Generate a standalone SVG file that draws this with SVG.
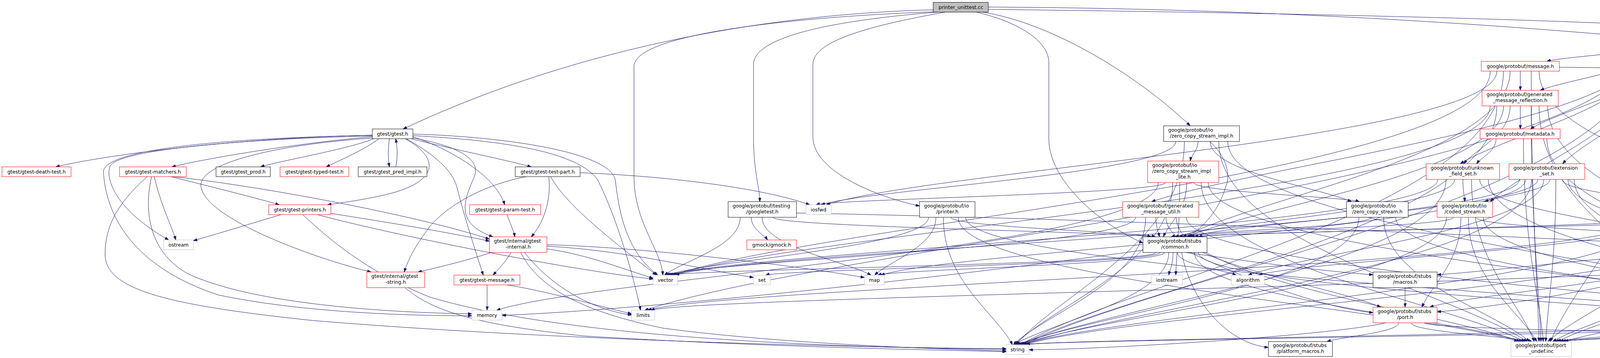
<svg xmlns="http://www.w3.org/2000/svg" width="5776" height="916" viewBox="0 0 5776 916">
<style>
.nd rect{fill:#fff;stroke:#000;stroke-width:1}
.nd.r rect{stroke:#ff0000}
.nd.g rect{stroke:#bfbfbf}
.nd.root rect{fill:#bfbfbf;stroke:#000}
.nd text{font-family:"DejaVu Sans","Liberation Sans",sans-serif;font-size:12.5px;fill:#000}
.nd text.c{text-anchor:middle}
#edges path{fill:none;stroke:#191970;stroke-width:1;marker-end:url(#arr)}
</style>
<defs>
<marker id="arr" viewBox="0 0 10 7" markerWidth="10" markerHeight="7" refX="10" refY="3.5" orient="auto" markerUnits="userSpaceOnUse"><path d="M0,0L10,3.5L0,7z" fill="#191970" stroke="#191970" stroke-width="1"/></marker>
</defs>
<rect width="5776" height="916" fill="#fff"/>
<g id="edges">
<path d="M2389,25C2000,35 1500,110 1032,330"/>
<path d="M2392,30C2000,45 1623,90 1623,170L1623,450C1623,570 1693,640 1697,704"/>
<path d="M2400,31C2100,55 1929,100 1929,165L1929,350C1929,440 1945,480 1945,516"/>
<path d="M2420,31C2200,70 2081,110 2081,165L2081,350C2081,440 2250,505 2354,527"/>
<path d="M2500,31C2620,60 2685,110 2685,160L2685,355C2685,460 2810,570 2926,622"/>
<path d="M2515,31C2700,60 2920,200 3047,322"/>
<path d="M2530,18C3300,22 3900,70 4177,94"/>
<path d="M2530,24C3500,35 4400,60 4553,91C4650,130 4670,235 4620,353C4570,460 4420,560 4370,606"/>
<path d="M953,346C600,352 250,400 143,427"/>
<path d="M953,350C800,362 550,400 440,427"/>
<path d="M953,348C600,356 300,385 282,425C268,460 300,540 432,614"/>
<path d="M956,355C900,380 700,415 667,427"/>
<path d="M1037,355C1120,400 1130,460 1000,495C940,510 880,518 838,524"/>
<path d="M970,355C930,385 870,410 835,427"/>
<path d="M997,355C993,380 993,405 997,427"/>
<path d="M1013,427C1018,405 1018,380 1013,355"/>
<path d="M957,353C700,370 500,420 515,480C530,560 800,660 950,696"/>
<path d="M1040,355C1120,400 1160,440 1170,480C1190,560 1220,650 1237,704"/>
<path d="M953,346C500,355 263,390 265,440C270,540 330,680 560,755C800,805 1100,808 1208,808"/>
<path d="M1057,350C1150,380 1270,450 1292,524"/>
<path d="M1057,353C1180,375 1230,410 1215,450C1190,510 1160,570 1262,606"/>
<path d="M1053,355C1150,380 1300,410 1360,427"/>
<path d="M1057,347C1300,360 1480,390 1530,460C1580,560 1620,700 1640,794"/>
<path d="M1057,343C1300,350 1560,390 1575,460C1585,540 1600,640 1684,704"/>
<path d="M395,452C410,520 440,580 450,614"/>
<path d="M437,452C550,480 650,505 715,524"/>
<path d="M388,452C370,530 375,640 480,700C650,780 1000,800 1208,803"/>
<path d="M443,452C700,480 1100,560 1253,612"/>
<path d="M377,452C300,520 269,580 269,650C269,740 420,780 800,820C1400,870 2200,890 2576,892"/>
<path d="M720,549C650,570 550,600 495,616"/>
<path d="M847,546C1000,570 1150,595 1253,617"/>
<path d="M812,549C1000,600 1450,690 1672,714"/>
<path d="M775,549C850,620 950,700 1100,760C1500,880 2300,890 2576,894"/>
<path d="M1298,549C1305,570 1315,590 1318,606"/>
<path d="M1347,452C1250,470 1150,520 1100,580C1070,620 1045,660 1035,696"/>
<path d="M1405,452C1410,500 1400,560 1360,606"/>
<path d="M1410,452C1450,530 1600,640 1680,704"/>
<path d="M1485,442C1700,450 1950,480 2073,524"/>
<path d="M1258,646C1200,665 1120,685 1070,696"/>
<path d="M1308,646C1295,670 1275,690 1262,704"/>
<path d="M1400,637C1500,650 1600,690 1672,712"/>
<path d="M1400,630C1600,640 1800,690 1929,710"/>
<path d="M1400,626C1700,635 2100,690 2213,710"/>
<path d="M1343,646C1400,720 1500,790 1617,806"/>
<path d="M1333,646C1380,740 1500,800 1700,840C2000,880 2400,893 2576,898"/>
<path d="M1247,729C1247,760 1247,775 1247,794"/>
<path d="M1298,729C1400,745 1520,780 1617,803"/>
<path d="M1037,736C1100,790 1200,830 1500,860C2000,890 2400,895 2576,900"/>
<path d="M1895,556C1895,630 1749,667 1701,704"/>
<path d="M1923,556C1923,585 1955,600 1965,614"/>
<path d="M1951,556C1951,630 2160,667 2230,704"/>
<path d="M1979,556C1979,581 2910,594 2947,606"/>
<path d="M2039,545C2800,560 3800,600 4252,625"/>
<path d="M2377,556C2377,630 1816,667 1705,704"/>
<path d="M2396,556C2396,630 2278,667 2239,704"/>
<path d="M2415,556C2415,719 2548,800 2592,882"/>
<path d="M2434,556C2434,581 2921,594 2958,606"/>
<path d="M2453,556C2453,715 3648,794 3886,874"/>
<path d="M2472,556C2472,715 4984,794 5222,874"/>
<path d="M3010,362C3010,443 2223,484 2102,524"/>
<path d="M3032,362C3032,622 2709,752 2601,882"/>
<path d="M3097,362C3140,400 3152,450 3137,480C3120,540 3080,580 3043,606"/>
<path d="M3067,362C3067,385 3050,395 3047,412"/>
<path d="M3098,362C3098,439 3370,478 3460,516"/>
<path d="M3120,362C3120,618 3713,746 3910,874"/>
<path d="M3143,362C3143,618 4856,746 5240,874"/>
<path d="M2965,467C2965,631 1517,712 1271,794"/>
<path d="M2984,467C2984,495 2131,510 2089,524"/>
<path d="M3002,467C3002,675 2699,778 2598,882"/>
<path d="M3020,467C3020,585 3012,645 3010,704"/>
<path d="M3038,467C3038,537 2993,571 2978,606"/>
<path d="M3056,467C3056,491 3444,504 3480,516"/>
<path d="M3075,467C3075,671 3697,772 3904,874"/>
<path d="M3093,467C3093,671 4929,772 5235,874"/>
<path d="M2907,556C2907,630 1820,667 1709,704"/>
<path d="M2933,556C2933,719 2679,800 2594,882"/>
<path d="M2959,556C2959,581 2966,594 2968,606"/>
<path d="M2985,556C2985,671 3398,728 3535,786"/>
<path d="M3011,556C3011,715 3672,794 3892,874"/>
<path d="M3037,556C3037,715 4988,794 5226,874"/>
<path d="M3479,556C3479,719 2822,800 2603,882"/>
<path d="M3510,556C3510,581 3035,594 2998,606"/>
<path d="M3542,556C3542,715 3822,794 3916,874"/>
<path d="M3573,556C3573,715 5006,794 5244,874"/>
<path d="M3703,556C3703,719 2853,800 2609,882"/>
<path d="M3721,556C3721,581 3055,594 3018,606"/>
<path d="M3740,556C3740,671 3665,728 3640,786"/>
<path d="M3759,556C3759,715 3890,794 3934,874"/>
<path d="M3778,556C3778,581 4253,594 4290,606"/>
<path d="M3797,556C3797,715 5020,794 5258,874"/>
<path d="M3681,459C3681,581 1900,643 1717,704"/>
<path d="M3702,459C3702,671 2881,776 2607,882"/>
<path d="M3724,459C3724,533 3119,569 3008,606"/>
<path d="M3745,459C3745,488 3749,502 3750,516"/>
<path d="M3767,459C3767,667 3888,770 3928,874"/>
<path d="M3788,459C3788,533 4164,569 4275,606"/>
<path d="M3810,459C3810,667 4941,770 5253,874"/>
<path d="M3890,459C3890,581 1912,643 1729,704"/>
<path d="M3906,459C3906,581 2438,643 2255,704"/>
<path d="M3921,459C3921,671 2934,776 2616,882"/>
<path d="M3937,459C3937,533 3159,569 3048,606"/>
<path d="M3952,459C3952,581 3378,643 3195,704"/>
<path d="M3968,459C3968,487 3842,502 3800,516"/>
<path d="M3983,459C3983,667 3963,770 3957,874"/>
<path d="M3999,459C3999,487 4183,502 4225,516"/>
<path d="M4014,459C4014,533 4232,569 4305,606"/>
<path d="M4030,459C4030,667 4965,770 5276,874"/>
<path d="M4220,556C4220,675 1836,734 1658,794"/>
<path d="M4239,556C4239,719 2862,800 2618,882"/>
<path d="M4257,556C4257,581 3095,594 3058,606"/>
<path d="M4276,556C4276,630 3333,667 3222,704"/>
<path d="M4295,556C4295,715 4046,794 3963,874"/>
<path d="M4313,556C4313,581 4318,594 4320,606"/>
<path d="M4332,556C4332,585 4842,600 4885,614"/>
<path d="M4351,556C4351,715 5048,794 5280,874"/>
<path d="M4538,549C4538,715 2874,799 2625,882"/>
<path d="M4562,549C4562,577 3110,592 3068,606"/>
<path d="M4587,549C4500,680 3900,780 3679,798"/>
<path d="M4612,549C4612,711 4143,793 3987,874"/>
<path d="M4636,549C4636,577 4442,592 4400,606"/>
<path d="M4661,549C4661,581 4887,598 4935,614"/>
<path d="M4685,549C4685,711 5145,793 5298,874"/>
<path d="M4285,646C4000,670 3800,695 3679,703"/>
<path d="M4317,646C4317,716 3765,751 3660,786"/>
<path d="M4350,646C4350,760 4069,817 3975,874"/>
<path d="M4382,646C4382,760 5118,817 5289,874"/>
<path d="M2926,640C2500,700 1700,790 1285,807"/>
<path d="M2959,646C2959,675 1756,690 1713,704"/>
<path d="M2970,646C2970,675 2003,690 1960,704"/>
<path d="M2981,646C2981,675 2290,690 2247,704"/>
<path d="M2992,646C2992,764 2695,823 2596,882"/>
<path d="M3003,646C3003,675 2995,690 2992,704"/>
<path d="M3014,646C3014,675 3127,690 3165,704"/>
<path d="M3025,646C3050,780 3150,880 3247,889"/>
<path d="M3036,646C3200,670 3400,695 3515,703"/>
<path d="M3047,646C3200,720 3400,790 3515,800"/>
<path d="M3058,646C3058,760 3727,817 3898,874"/>
<path d="M3068,646C3068,760 5060,817 5231,874"/>
<path d="M3597,736C3597,760 3597,770 3597,786"/>
<path d="M3548,826C3400,860 2800,895 2634,895"/>
<path d="M3581,826C3581,850 3433,862 3397,874"/>
<path d="M3613,826C3613,850 3886,862 3922,874"/>
<path d="M3646,826C3646,850 5213,862 5249,874"/>
<path d="M4887,639C4887,717 1783,755 1666,794"/>
<path d="M4935,639C4935,757 4182,815 4005,874"/>
<path d="M4982,639C4982,757 5230,815 5312,874"/>
<path d="M4357,826C4357,854 2665,868 2623,882"/>
<path d="M4409,826C4409,850 4017,862 3981,874"/>
<path d="M4461,826C4461,850 5258,862 5294,874"/>
<path d="M4621,826C4621,854 2669,868 2627,882"/>
<path d="M4668,826C4668,850 4029,862 3993,874"/>
<path d="M4714,826C4714,850 5267,862 5303,874"/>
<path d="M4888,826C4888,850 4035,862 3999,874"/>
<path d="M4966,826C4966,850 5271,862 5307,874"/>
<path d="M3815,182C3815,443 2113,574 1721,704"/>
<path d="M3832,182C3832,353 2371,438 2115,524"/>
<path d="M3849,182C3849,532 2921,707 2612,882"/>
<path d="M3866,182C3866,394 3238,500 3028,606"/>
<path d="M3892,182C3892,205 3892,215 3892,231"/>
<path d="M3920,182C3920,528 3935,701 3940,874"/>
<path d="M3940,182C3940,398 4632,506 4862,614"/>
<path d="M3992,172C4900,180 5494,250 5494,423C5494,600 5380,780 5345,874"/>
<path d="M3815,271C3815,487 2049,596 1725,704"/>
<path d="M3832,271C3832,577 2918,729 2614,882"/>
<path d="M3849,271C3849,439 3241,522 3038,606"/>
<path d="M3866,271C3866,345 3777,382 3747,419"/>
<path d="M3892,271C3892,295 3892,310 3892,330"/>
<path d="M3920,271C3920,573 3939,723 3945,874"/>
<path d="M3940,271C3940,529 4240,657 4340,786"/>
<path d="M3962,271C3962,573 4941,723 5267,874"/>
<path d="M3830,355C3830,387 3792,403 3780,419"/>
<path d="M3900,355C3900,615 3938,744 3951,874"/>
<path d="M3960,355C3960,615 4943,744 5271,874"/>
<path d="M4205,107C4205,451 2166,622 1650,794"/>
<path d="M4215,107C4215,495 3019,688 2620,882"/>
<path d="M4226,107C4226,311 3254,414 2948,516"/>
<path d="M4237,107C4237,263 3863,341 3738,419"/>
<path d="M4247,107C4247,311 3923,414 3815,516"/>
<path d="M4258,107C4258,132 3997,145 3960,157"/>
<path d="M4268,107C4268,169 4024,200 3943,231"/>
<path d="M4279,107C4279,219 4008,274 3918,330"/>
<path d="M4290,107C4290,491 4049,682 3969,874"/>
<path d="M4300,107C4300,263 4075,341 4000,419"/>
<path d="M4311,107C4311,311 4307,414 4305,516"/>
<path d="M4332,107C4332,315 4553,420 4627,524"/>
<path d="M4402,106C5000,125 5365,180 5365,250L5365,550C5365,650 4800,730 4506,800"/>
<path d="M4402,105C4950,120 5263,170 5263,250L5263,447C5263,560 4950,720 4754,800"/>
<path d="M4402,101C5200,115 5619,140 5619,250L5619,620C5619,720 5250,790 5024,806"/>
<path d="M4402,103C4900,115 5163,170 5163,250L5163,447C5163,540 5060,590 4995,614"/>
<path d="M4402,99C5300,110 5769,160 5769,250L5769,730C5769,840 5500,880 5366,890"/>
</g>
<g id="node-root" class="nd root"><rect x="2389" y="6" width="141" height="25"/><text class="c" x="2460" y="22.5">printer_unittest.cc</text></g>
<g id="node-descriptor-pb" class="nd"><rect x="4177" y="82" width="225" height="25"/><text class="c" x="4290" y="98.5">google/protobuf/descriptor.pb.h</text></g>
<g id="node-message" class="nd r"><rect x="3792" y="157" width="200" height="25"/><text class="c" x="3892" y="173.5">google/protobuf/message.h</text></g>
<g id="node-gen-msg-refl" class="nd r"><rect x="3794" y="231" width="195" height="40"/><text x="3805.5" y="246">google/protobuf/generated</text><text class="c" x="3891.5" y="261">_message_reflection.h</text></g>
<g id="node-gtest" class="nd"><rect x="953" y="330" width="104" height="25"/><text class="c" x="1005" y="346.5">gtest/gtest.h</text></g>
<g id="node-zcs-impl" class="nd"><rect x="2979" y="322" width="194" height="40"/><text x="2990.5" y="337">google/protobuf/io</text><text class="c" x="3076" y="352">/zero_copy_stream_impl.h</text></g>
<g id="node-metadata" class="nd r"><rect x="3789" y="330" width="205" height="25"/><text class="c" x="3891.5" y="346.5">google/protobuf/metadata.h</text></g>
<g id="node-death" class="nd r"><rect x="5" y="427" width="177" height="25"/><text class="c" x="93.5" y="443.5">gtest/gtest-death-test.h</text></g>
<g id="node-matchers" class="nd r"><rect x="306" y="427" width="171" height="25"/><text class="c" x="391.5" y="443.5">gtest/gtest-matchers.h</text></g>
<g id="node-prod" class="nd"><rect x="553" y="427" width="139" height="25"/><text class="c" x="622.5" y="443.5">gtest/gtest_prod.h</text></g>
<g id="node-typed" class="nd r"><rect x="717" y="427" width="176" height="25"/><text class="c" x="805" y="443.5">gtest/gtest-typed-test.h</text></g>
<g id="node-pred" class="nd"><rect x="917" y="427" width="176" height="25"/><text class="c" x="1005" y="443.5">gtest/gtest_pred_impl.h</text></g>
<g id="node-testpart" class="nd"><rect x="1319" y="427" width="166" height="25"/><text class="c" x="1402" y="443.5">gtest/gtest-test-part.h</text></g>
<g id="node-zcs-lite" class="nd r"><rect x="2938" y="412" width="182" height="55"/><text x="2949.5" y="427">google/protobuf/io</text><text x="2949.5" y="442">/zero_copy_stream_impl</text><text class="c" x="3029" y="457">_lite.h</text></g>
<g id="node-ufs" class="nd r"><rect x="3651" y="419" width="188" height="40"/><text x="3662.5" y="434">google/protobuf/unknown</text><text class="c" x="3745" y="449">_field_set.h</text></g>
<g id="node-extset" class="nd r"><rect x="3863" y="419" width="194" height="40"/><text x="3874.5" y="434">google/protobuf/extension</text><text class="c" x="3960" y="449">_set.h</text></g>
<g id="node-printers" class="nd r"><rect x="688" y="524" width="159" height="25"/><text class="c" x="767.5" y="540.5">gtest/gtest-printers.h</text></g>
<g id="node-param" class="nd r"><rect x="1202" y="524" width="182" height="25"/><text class="c" x="1293" y="540.5">gtest/gtest-param-test.h</text></g>
<g id="node-googletest" class="nd"><rect x="1864" y="516" width="175" height="40"/><text x="1875.5" y="531">google/protobuf/testing</text><text class="c" x="1951.5" y="546">/googletest.h</text></g>
<g id="node-iosfwd" class="nd g"><rect x="2063" y="524" width="65" height="25"/><text class="c" x="2095.5" y="540.5">iosfwd</text></g>
<g id="node-printer" class="nd"><rect x="2354" y="516" width="142" height="40"/><text x="2365.5" y="531">google/protobuf/io</text><text class="c" x="2425" y="546">/printer.h</text></g>
<g id="node-gen-msg-util" class="nd r"><rect x="2874" y="516" width="195" height="40"/><text x="2885.5" y="531">google/protobuf/generated</text><text class="c" x="2971.5" y="546">_message_util.h</text></g>
<g id="node-zcs" class="nd"><rect x="3447" y="516" width="158" height="40"/><text x="3458.5" y="531">google/protobuf/io</text><text class="c" x="3526" y="546">/zero_copy_stream.h</text></g>
<g id="node-coded" class="nd r"><rect x="3679" y="516" width="142" height="40"/><text x="3690.5" y="531">google/protobuf/io</text><text class="c" x="3750" y="546">/coded_stream.h</text></g>
<g id="node-repeated" class="nd r"><rect x="4192" y="516" width="187" height="40"/><text x="4203.5" y="531">google/protobuf/repeated</text><text class="c" x="4285.5" y="546">_field.h</text></g>
<g id="node-arenastring" class="nd r"><rect x="4504" y="524" width="215" height="25"/><text class="c" x="4611.5" y="540.5">google/protobuf/arenastring.h</text></g>
<g id="node-ostream" class="nd g"><rect x="419" y="614" width="76" height="25"/><text class="c" x="457" y="630.5">ostream</text></g>
<g id="node-internal" class="nd r"><rect x="1253" y="606" width="147" height="40"/><text x="1264.5" y="621">gtest/internal/gtest</text><text class="c" x="1326.5" y="636">-internal.h</text></g>
<g id="node-gmock" class="nd r"><rect x="1912" y="614" width="127" height="25"/><text class="c" x="1975.5" y="630.5">gmock/gmock.h</text></g>
<g id="node-common" class="nd"><rect x="2926" y="606" width="164" height="40"/><text x="2937.5" y="621">google/protobuf/stubs</text><text class="c" x="3008" y="636">/common.h</text></g>
<g id="node-logging" class="nd"><rect x="4252" y="606" width="163" height="40"/><text x="4263.5" y="621">google/protobuf/stubs</text><text class="c" x="4333.5" y="636">/logging.h</text></g>
<g id="node-arena" class="nd r"><rect x="4845" y="614" width="179" height="25"/><text class="c" x="4934.5" y="630.5">google/protobuf/arena.h</text></g>
<g id="node-gtest-string" class="nd r"><rect x="939" y="696" width="148" height="40"/><text x="950.5" y="711">gtest/internal/gtest</text><text class="c" x="1013" y="726">-string.h</text></g>
<g id="node-gtest-message" class="nd r"><rect x="1162" y="704" width="169" height="25"/><text class="c" x="1246.5" y="720.5">gtest/gtest-message.h</text></g>
<g id="node-vector" class="nd g"><rect x="1672" y="704" width="63" height="25"/><text class="c" x="1703.5" y="720.5">vector</text></g>
<g id="node-set" class="nd g"><rect x="1929" y="704" width="43" height="25"/><text class="c" x="1950.5" y="720.5">set</text></g>
<g id="node-map" class="nd g"><rect x="2213" y="704" width="51" height="25"/><text class="c" x="2238.5" y="720.5">map</text></g>
<g id="node-iostream" class="nd g"><rect x="2947" y="704" width="80" height="25"/><text class="c" x="2987" y="720.5">iostream</text></g>
<g id="node-algorithm" class="nd g"><rect x="3152" y="704" width="85" height="25"/><text class="c" x="3194.5" y="720.5">algorithm</text></g>
<g id="node-macros" class="nd"><rect x="3515" y="696" width="164" height="40"/><text x="3526.5" y="711">google/protobuf/stubs</text><text class="c" x="3597" y="726">/macros.h</text></g>
<g id="node-memory" class="nd g"><rect x="1208" y="794" width="77" height="25"/><text class="c" x="1246.5" y="810.5">memory</text></g>
<g id="node-limits" class="nd g"><rect x="1617" y="794" width="59" height="25"/><text class="c" x="1646.5" y="810.5">limits</text></g>
<g id="node-port" class="nd r"><rect x="3515" y="786" width="164" height="40"/><text x="3526.5" y="801">google/protobuf/stubs</text><text class="c" x="3597" y="816">/port.h</text></g>
<g id="node-gen-enum-refl" class="nd r"><rect x="4312" y="786" width="194" height="40"/><text x="4323.5" y="801">google/protobuf/generated</text><text class="c" x="4409" y="816">_enum_reflection.h</text></g>
<g id="node-inlined" class="nd r"><rect x="4581" y="786" width="173" height="40"/><text x="4592.5" y="801">google/protobuf/inlined</text><text class="c" x="4667.5" y="816">_string_field.h</text></g>
<g id="node-table-driven" class="nd r"><rect x="4829" y="786" width="195" height="40"/><text x="4840.5" y="801">google/protobuf/generated</text><text class="c" x="4926.5" y="816">_message_table_driven.h</text></g>
<g id="node-string" class="nd g"><rect x="2576" y="882" width="58" height="25"/><text class="c" x="2605" y="898.5">string</text></g>
<g id="node-platform-macros" class="nd"><rect x="3247" y="874" width="164" height="38"/><text x="3258.5" y="888">google/protobuf/stubs</text><text class="c" x="3329" y="903">/platform_macros.h</text></g>
<g id="node-port-undef" class="nd g"><rect x="3868" y="874" width="155" height="38"/><text x="3879.5" y="888">google/protobuf/port</text><text class="c" x="3945.5" y="903">_undef.inc</text></g>
<g id="node-port-def" class="nd g"><rect x="5212" y="874" width="154" height="38"/><text x="5223.5" y="888">google/protobuf/port</text><text class="c" x="5289" y="903">_def.inc</text></g>
</svg>
